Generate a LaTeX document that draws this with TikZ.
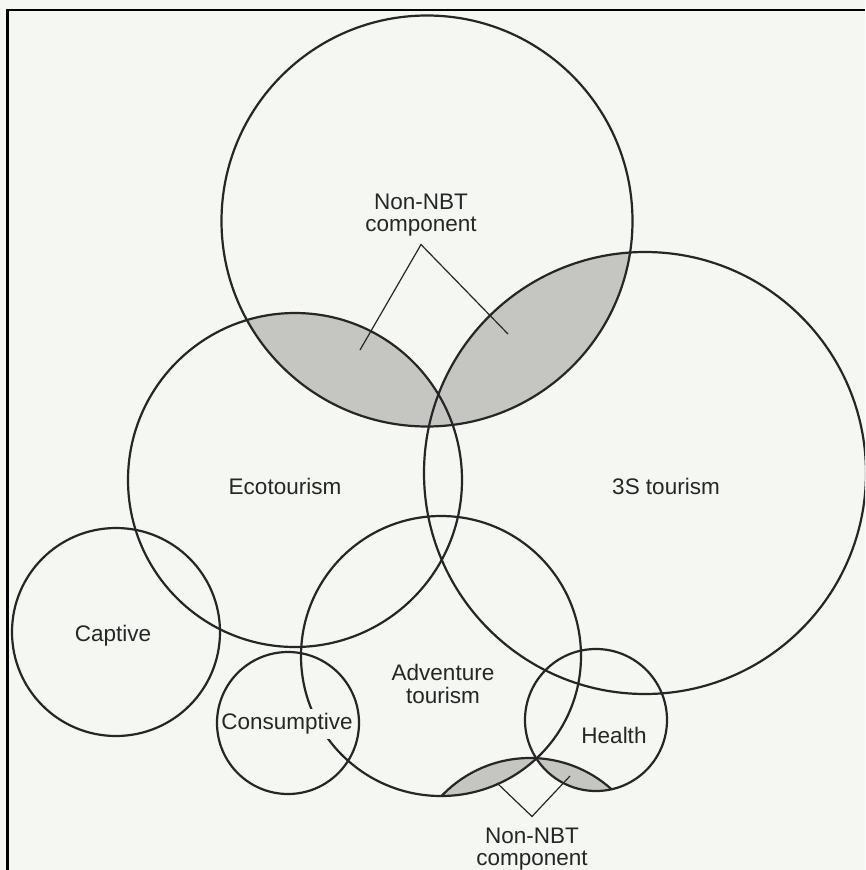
\documentclass[tikz,border=0pt]{standalone}
\usepackage{fontspec}
\setmainfont{Liberation Sans}
\usepackage{tikz}
\usetikzlibrary{positioning}
\definecolor{ink}{HTML}{262626}
\definecolor{lensgray}{HTML}{C5C6C2}
\definecolor{paper}{HTML}{F5F7F2}

\begin{document}
\begin{tikzpicture}[x=1pt,y=-1pt,
  ring/.style={draw=ink,line width=2.2pt},
  lbl/.style={text=ink,font=\fontsize{22.5}{22.5}\selectfont,align=center,inner sep=0pt},
  lead/.style={draw=ink,line width=1.2pt}]
\useasboundingbox (0,0) rectangle (865,870);
\fill[paper] (0,0) rectangle (865,870);
\begin{scope}
\clip (0,0) rectangle (865,870);
\coordinate (nbttop) at (427,221);
\coordinate (eco) at (295,480);
\coordinate (sss) at (645,473);
\coordinate (adv) at (441,656);
\coordinate (capt) at (116,632);
\coordinate (cons) at (288,723);
\coordinate (hlth) at (596,720);
\coordinate (nbtbot) at (530,880);
\begin{scope}
\clip (nbttop) circle (205.5);
\fill[lensgray] (eco) circle (167);
\fill[lensgray] (sss) circle (221);
\end{scope}
\begin{scope}
\clip (nbtbot) circle (122);
\fill[lensgray] (adv) circle (140);
\fill[lensgray] (hlth) circle (71);
\end{scope}
\begin{scope}
\clip (adv) circle (140);
\draw[ring] (nbtbot) circle (122);
\end{scope}
\begin{scope}
\clip (hlth) circle (71);
\draw[ring] (nbtbot) circle (122);
\end{scope}
\draw[ring] (nbttop) circle (205.5);
\draw[ring] (eco) circle (167);
\draw[ring] (sss) circle (221);
\draw[ring] (adv) circle (140);
\draw[ring] (capt) circle (104);
\draw[ring] (hlth) circle (71);
\node[lbl,fill=paper,inner xsep=3pt,inner ysep=5pt] (consl) at (287,724) {Consumptive};
\draw[ring] (cons) circle (71);
\node[lbl,inner ysep=8pt] (toplbl) at (421,215) {Non-NBT\\component};
\node[lbl,inner ysep=11pt] (botlbl) at (532,849) {Non-NBT\\component};
\node[lbl] (ecol) at (285,486) {Ecotourism};
\node[lbl] (sssl) at (666,486) {3S tourism};
\node[lbl] (captl) at (113,636) {Captive};
\node[lbl] (advl) at (443,684) {Adventure\\tourism};
\node[lbl] (hlthl) at (614,735) {Health};
\coordinate (tl) at (360,350);
\coordinate (tr) at (508,334);
\coordinate (bl) at (497,783);
\coordinate (br) at (570,776);
\draw[lead] (tl) -- (toplbl.south) -- (tr);
\draw[lead] (bl) -- (botlbl.north) -- (br);
\end{scope}
\draw[black,line width=2.5pt] (865,10) -- (7.5,10) -- (7.5,870);
\end{tikzpicture}
\end{document}
